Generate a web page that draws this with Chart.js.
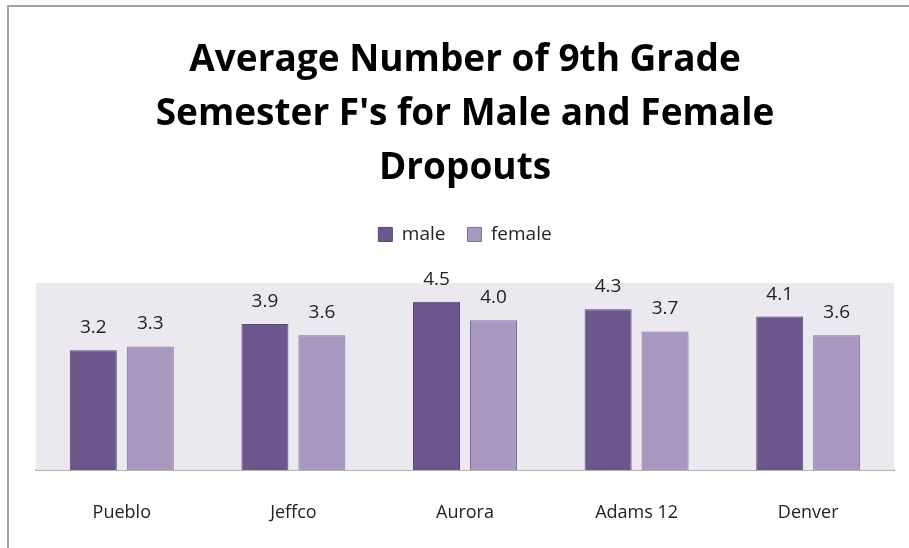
<!DOCTYPE html>
<html>
<head>
<meta charset="utf-8">
<script src="https://cdn.jsdelivr.net/npm/chart.js@4"></script>
<style>
  html, body { margin: 0; padding: 0; background: #fff; overflow: hidden; }
  .frame { position: absolute; left: 7px; top: 5px; width: 1000px; height: 1000px; border: 2px solid #a3a3a3; }
  .wrap { position: absolute; left: 0; top: 0; width: 909px; height: 548px; }
</style>
</head>
<body>
<div class="frame"></div>
<div class="wrap"><canvas id="barChart" width="909" height="548"></canvas></div>
<script>
const categorias = ['Pueblo', 'Jeffco', 'Aurora', 'Adams 12', 'Denver'];
const masculino = [3.2, 3.9, 4.5, 4.3, 4.1];
const feminino = [3.3, 3.6, 4.0, 3.7, 3.6];
const tituloLinhas = ['Average Number of 9th Grade', "Semester F's for Male and Female", 'Dropouts'];

// fundo lilás da área do gráfico
const fundoArea = {
    id: 'fundoArea',
    beforeDatasetsDraw(chart) {
        const { ctx, chartArea: a } = chart;
        ctx.save();
        ctx.fillStyle = '#ebe9ef';
        ctx.fillRect(a.left, a.top, a.right - a.left, a.bottom - a.top);
        ctx.restore();
    }
};

// espaço extra abaixo da legenda
const espacoLegenda = {
    id: 'espacoLegenda',
    beforeLayout(chart) {
        const leg = chart.legend;
        if (leg && !leg._espaco) {
            const fitOriginal = leg.fit;
            leg.fit = function () {
                fitOriginal.call(this);
                this.height += 29;
            };
            leg._espaco = true;
        }
    }
};

// rótulos de valor acima das barras
const rotulos = {
    id: 'rotulos',
    afterDatasetsDraw(chart) {
        const { ctx } = chart;
        ctx.save();
        ctx.font = '19px "Open Sans", sans-serif';
        ctx.fillStyle = '#222';
        ctx.textAlign = 'center';
        ctx.textBaseline = 'bottom';
        chart.data.datasets.forEach((ds, i) => {
            chart.getDatasetMeta(i).data.forEach((bar, j) => {
                ctx.fillText(ds.data[j].toFixed(1), bar.x, bar.y - 13);
            });
        });
        ctx.restore();
    }
};

const barCtx = document.getElementById('barChart');
new Chart(barCtx, {
    type: 'bar',
    data: {
        labels: categorias,
        datasets: [
            {
                label: 'male',
                data: masculino,
                backgroundColor: '#6d568c',
                borderColor: '#5a4676',
                borderWidth: 1
            },
            {
                label: 'female',
                data: feminino,
                backgroundColor: '#a898bf',
                borderColor: '#7f6c9c',
                borderWidth: 1
            }
        ]
    },
    options: {
        responsive: false,
        animation: false,
        layout: { padding: { left: 36, right: 15, top: 34, bottom: 0 } },
        categoryPercentage: 0.664,
        barPercentage: 0.825,
        plugins: {
            title: {
                display: true,
                text: tituloLinhas,
                color: '#000',
                font: { family: '"Open Sans"', size: 37, weight: 'bold', lineHeight: 1.45 },
                padding: { top: 0, bottom: 8 }
            },
            legend: {
                position: 'top',
                labels: {
                    color: '#222',
                    font: { family: '"Open Sans", sans-serif', size: 19 },
                    boxWidth: 14,
                    boxHeight: 14,
                    padding: 22
                }
            },
            tooltip: { enabled: false }
        },
        scales: {
            x: {
                grid: { display: false, drawTicks: false },
                border: { display: true, color: '#b5b5b5', width: 2 },
                ticks: { color: '#222', font: { family: '"Open Sans", sans-serif', size: 18 }, padding: 32 },
                afterFit(scale) { scale.height = 78; }
            },
            y: {
                display: false,
                min: 0,
                max: 5
            }
        }
    },
    plugins: [fundoArea, espacoLegenda, rotulos]
});
</script>
</body>
</html>
